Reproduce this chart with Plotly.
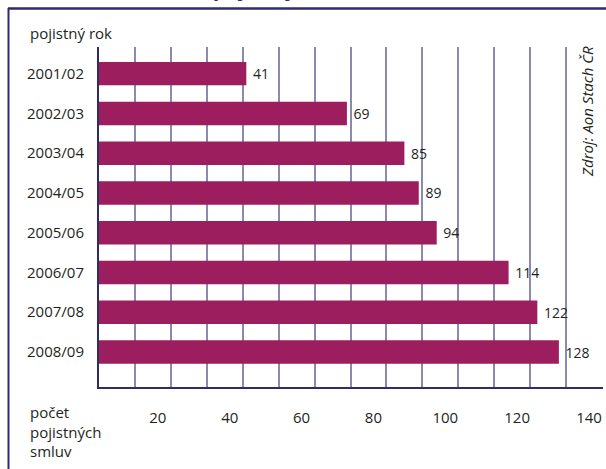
import plotly.graph_objects as go

# ---- data ----
years = ["2001/02", "2002/03", "2003/04", "2004/05", "2005/06", "2006/07", "2007/08", "2008/09"]
contracts = [41, 69, 85, 89, 94, 114, 122, 128]
grid_vals = [10, 20, 30, 40, 50, 60, 70, 80, 90, 100, 110, 120, 130, 140]
tick_text = ["" if v % 20 else str(v) for v in grid_vals]

BAR = "#9d1e5e"
NAVY = "#2d2c6c"
GRID = "#8b89ae"
TXT = "#231f20"
FONT = "Open Sans"

W, H = 606, 469
ML, MR, MT, MB = 99, 3, 47, 82
PW, PH = W - ML - MR, H - MT - MB


def px(x):
    return (x - ML) / PW


def py(y):
    return (H - MB - y) / PH


fig = go.Figure(go.Bar(
    x=contracts, y=years, orientation="h",
    marker=dict(color=BAR, line=dict(width=0)),
    width=0.59,
    text=["\u00a0" + str(v) for v in contracts],
    textposition="outside",
    textfont=dict(family=FONT, size=14, color=TXT),
    cliponaxis=False,
))

fig.update_layout(
    width=W, height=H,
    margin=dict(l=ML, r=MR, t=MT, b=MB),
    paper_bgcolor="white", plot_bgcolor="white",
    showlegend=False,
    xaxis=dict(
        range=[0, 140 * PW / (602 - ML)],
        tickvals=grid_vals, ticktext=tick_text,
        showgrid=True, gridcolor=GRID, gridwidth=2,
        zeroline=False,
        showline=True, linecolor=NAVY, linewidth=2,
        ticks="outside", ticklen=0,
        ticklabelshift=-13, ticklabelstandoff=16,
        tickfont=dict(family=FONT, size=15, color=TXT),
    ),
    yaxis=dict(
        type="category",
        range=[7.88, -0.67],
        showgrid=False, zeroline=False,
        showline=True, linecolor=NAVY, linewidth=2,
        ticks="outside", ticklen=0, ticklabelstandoff=10,
        tickfont=dict(family=FONT, size=15, color=TXT),
    ),
    font=dict(family=FONT, color=TXT),
    shapes=[
        dict(type="line", xref="paper", yref="paper",
             x0=px(8), x1=px(W + 2), y0=py(8.5), y1=py(8.5),
             line=dict(color=NAVY, width=2.5)),
        dict(type="line", xref="paper", yref="paper",
             x0=px(8.5), x1=px(8.5), y0=py(8), y1=py(H + 2),
             line=dict(color=NAVY, width=2)),
    ],
    annotations=[
        dict(text="<b><i>Počet pojistných smluv (2001–2009)</i></b>",
             xref="paper", yref="paper", x=px(334), y=py(3),
             xanchor="center", yanchor="bottom", showarrow=False,
             font=dict(family=FONT, size=22, color=NAVY), borderpad=0),
        dict(text="pojistný rok", xref="paper", yref="paper",
             x=px(28), y=py(33), xanchor="left", yanchor="middle",
             showarrow=False, font=dict(family=FONT, size=15, color=TXT)),
        dict(text="počet<br>pojistných<br>smluv", xref="paper", yref="paper",
             x=px(28), y=py(400), xanchor="left", yanchor="top", align="left",
             showarrow=False, font=dict(family=FONT, size=15, color=TXT)),
        dict(text="<i>Zdroj: Aon Stach ČR</i>", xref="paper", yref="paper",
             x=px(587), y=py(112), xanchor="center", yanchor="middle",
             textangle=-90, showarrow=False,
             font=dict(family=FONT, size=15, color=TXT)),
    ],
)

fig.write_html("out.html")
